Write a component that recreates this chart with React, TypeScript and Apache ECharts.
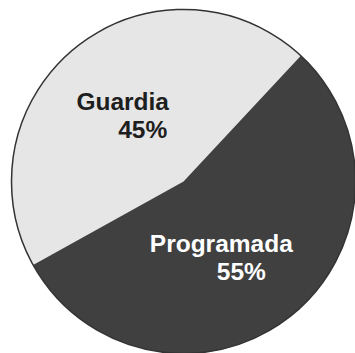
import React, { useEffect, useRef } from "react";
import * as echarts from "echarts";

const categories = ["Guardia", "Programada"];
const values = [45, 55];
const percentLabels = ["45%", "55%"];

const sliceColors = ["#e6e6e6", "#404040"];
const textColors = ["#1e1e1e", "#ffffff"];
const labelOffsets = [
  [-6, 4],
  [-17, 6],
];

export default function App() {
  const ref = useRef<HTMLDivElement>(null);
  useEffect(() => {
    document.body.style.margin = "0";
    const chart = echarts.init(ref.current!, null, { renderer: "svg" });
    const cx = 183.5;
    const cy = 181.5;
    const r = 172;
    chart.setOption({
      animation: false,
      backgroundColor: "#ffffff",
      series: [
        {
          type: "pie",
          center: [cx, cy],
          radius: [0, r],
          startAngle: 209,
          clockwise: true,
          silent: true,
          labelLine: { show: false },
          data: categories.map((name, i) => ({
            name,
            value: values[i],
            itemStyle: { color: sliceColors[i], borderWidth: 0 },
            label: {
              show: true,
              position: "inside",
              offset: labelOffsets[i],
              formatter: `{n|${name}}\n{p|${percentLabels[i]}}`,
              rich: {
                n: {
                  fontFamily: "Liberation Sans, Arial, sans-serif",
                  fontWeight: "bold",
                  fontSize: 24.5,
                  lineHeight: 28,
                  color: textColors[i],
                  align: "center",
                },
                p: {
                  fontFamily: "Liberation Sans, Arial, sans-serif",
                  fontWeight: "bold",
                  fontSize: 24.5,
                  lineHeight: 28,
                  color: textColors[i],
                  align: "center",
                  padding: [0, 0, 0, 40],
                },
              },
            },
          })),
        },
      ],
      graphic: [
        {
          type: "circle",
          silent: true,
          z: 100,
          shape: { cx, cy, r },
          style: { fill: "none", stroke: "#333333", lineWidth: 1.5 },
        },
      ],
    });
    return () => chart.dispose();
  }, []);
  return (
    <div
      ref={ref}
      style={{ position: "absolute", left: 0, top: 0, width: 355, height: 353 }}
    />
  );
}
